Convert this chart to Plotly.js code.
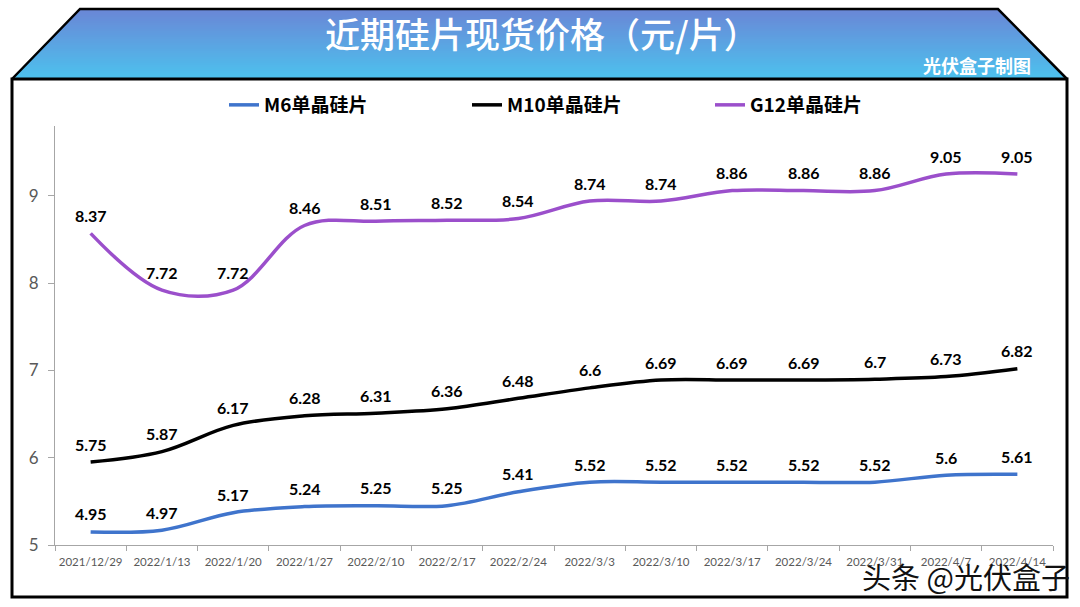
<!DOCTYPE html>
<html>
<head>
<meta charset="utf-8">
<script src="https://cdn.plot.ly/plotly-3.0.1.min.js"></script>
<style>html,body{margin:0;padding:0;background:#fff;}#chart{width:1080px;height:607px;}</style>
</head>
<body>
<div id="chart"></div>
<script>
// ---- data ----
const dates = ["2021/12/29","2022/1/13","2022/1/20","2022/1/27","2022/2/10","2022/2/17","2022/2/24","2022/3/3","2022/3/10","2022/3/17","2022/3/24","2022/3/31","2022/4/7","2022/4/14"];
const m6  = [4.95,4.97,5.17,5.24,5.25,5.25,5.41,5.52,5.52,5.52,5.52,5.52,5.6,5.61];
const m10 = [5.75,5.87,6.17,6.28,6.31,6.36,6.48,6.6,6.69,6.69,6.69,6.7,6.73,6.82];
const g12 = [8.37,7.72,7.72,8.46,8.51,8.52,8.54,8.74,8.74,8.86,8.86,8.86,9.05,9.05];
const seriesNames = ["M6单晶硅片","M10单晶硅片","G12单晶硅片"];
const titleText = "近期硅片现货价格（元/片）";
const sourceText = "光伏盒子制图";
const watermarkText = "头条 @光伏盒子";

// ---- layout geometry (pixels) ----
const L = 55, R = 1053, T = 126, B = 545;
const px = x => (x - L) / (R - L);
const py = y => (B - y) / (B - T);

const colors = ["#3f74cc", "#000000", "#9b4fcb"];
const series = [m6, m10, g12];

const traces = series.map((s, i) => ({
  type: "scatter",
  mode: "lines",
  x: dates,
  y: s,
  name: seriesNames[i],
  line: {color: colors[i], width: 3.5, shape: "spline", smoothing: 1},
  hoverinfo: "skip"
}));

const annotations = [];
series.forEach(s => {
  s.forEach((v, j) => {
    annotations.push({
      xref: "x", yref: "y", x: dates[j], y: v, text: String(v),
      showarrow: false, yshift: 18,
      font: {family: "Lato, 'Liberation Sans', sans-serif", size: 16, color: "#000", weight: 700}
    });
  });
});

// header title & source
annotations.push({
  xref: "paper", yref: "paper", x: px(542), y: py(33), xanchor: "center", yanchor: "middle",
  text: titleText, showarrow: false,
  font: {family: "'Noto Sans CJK SC', sans-serif", size: 35, color: "#ffffff", weight: 500}
});
annotations.push({
  xref: "paper", yref: "paper", x: px(1033), y: py(65), xanchor: "right", yanchor: "middle",
  text: sourceText, showarrow: false,
  font: {family: "'Noto Sans CJK SC', sans-serif", size: 18, color: "#ffffff", weight: 700}
});
annotations.push({
  xref: "paper", yref: "paper", x: px(1072), y: py(576), xanchor: "right", yanchor: "middle",
  text: watermarkText, showarrow: false,
  font: {family: "'Noto Sans CJK SC', sans-serif", size: 29, color: "#111111", weight: 400}
});

// header trapezoid with gradient bands
const shapes = [];
const yTop = 9, yBot = 79;
const leftX = y => 80 - (y - yTop) * (68 / 70);
const rightX = y => 998 + (y - yTop) * (69 / 70);
const cTop = [106, 134, 214], cBot = [76, 194, 238];
const N = 35;
for (let i = 0; i < N; i++) {
  const y0 = yTop + i * (yBot - yTop) / N;
  const y1 = Math.min(yBot, y0 + (yBot - yTop) / N + 0.8);
  const t = (i + 0.5) / N;
  const c = cTop.map((a, k) => Math.round(a + (cBot[k] - a) * t));
  const path = `M${px(leftX(y0))},${py(y0)} L${px(rightX(y0))},${py(y0)} L${px(rightX(y1))},${py(y1)} L${px(leftX(y1))},${py(y1)} Z`;
  shapes.push({type: "path", xref: "paper", yref: "paper", path: path,
    fillcolor: `rgb(${c[0]},${c[1]},${c[2]})`, line: {width: 0}, layer: "below"});
}
// trapezoid outline
shapes.push({type: "path", xref: "paper", yref: "paper",
  path: `M${px(12)},${py(79)} L${px(80)},${py(9)} L${px(998)},${py(9)} L${px(1067)},${py(79)}`,
  line: {color: "#000", width: 2.5}});
// frame
shapes.push({type: "path", xref: "paper", yref: "paper",
  path: `M${px(12)},${py(79)} L${px(1067)},${py(79)} L${px(1067)},${py(597)} L${px(12)},${py(597)} Z`,
  line: {color: "#000", width: 3}});

const layout = {
  width: 1080, height: 607,
  margin: {l: L, r: 1080 - R, t: T, b: 607 - B, pad: 0, autoexpand: false},
  paper_bgcolor: "#ffffff", plot_bgcolor: "#ffffff",
  showlegend: true,
  legend: {
    orientation: "h", x: px(224), y: py(105), xanchor: "left", yanchor: "middle",
    entrywidth: 198, entrywidthmode: "pixels",
    font: {family: "'Noto Sans CJK SC', sans-serif", size: 19, color: "#000", weight: 700},
    bgcolor: "rgba(0,0,0,0)", traceorder: "normal", itemclick: false
  },
  xaxis: {
    type: "category", range: [-0.5, dates.length - 0.5],
    showline: true, linecolor: "#a6a6a6", linewidth: 1,
    ticks: "outside", tickson: "boundaries", ticklen: 5, tickcolor: "#a6a6a6",
    showgrid: false, zeroline: false, tickangle: 0, automargin: false,
    ticklabelstandoff: 6,
    tickfont: {family: "Lato, 'Liberation Sans', sans-serif", size: 11.5, color: "#595959"}
  },
  yaxis: {
    range: [4.8, 9.6], tick0: 4.8, dtick: 1, tickformat: ".0f",
    showline: true, linecolor: "#a6a6a6", linewidth: 1,
    ticks: "outside", ticklen: 6, tickcolor: "#a6a6a6",
    showgrid: false, zeroline: false, automargin: false,
    ticklabelstandoff: 6,
    tickfont: {family: "Lato, 'Liberation Sans', sans-serif", size: 17, color: "#595959"}
  },
  annotations: annotations,
  shapes: shapes
};

Plotly.newPlot("chart", traces, layout, {staticPlot: true, displayModeBar: false});
</script>
</body>
</html>
